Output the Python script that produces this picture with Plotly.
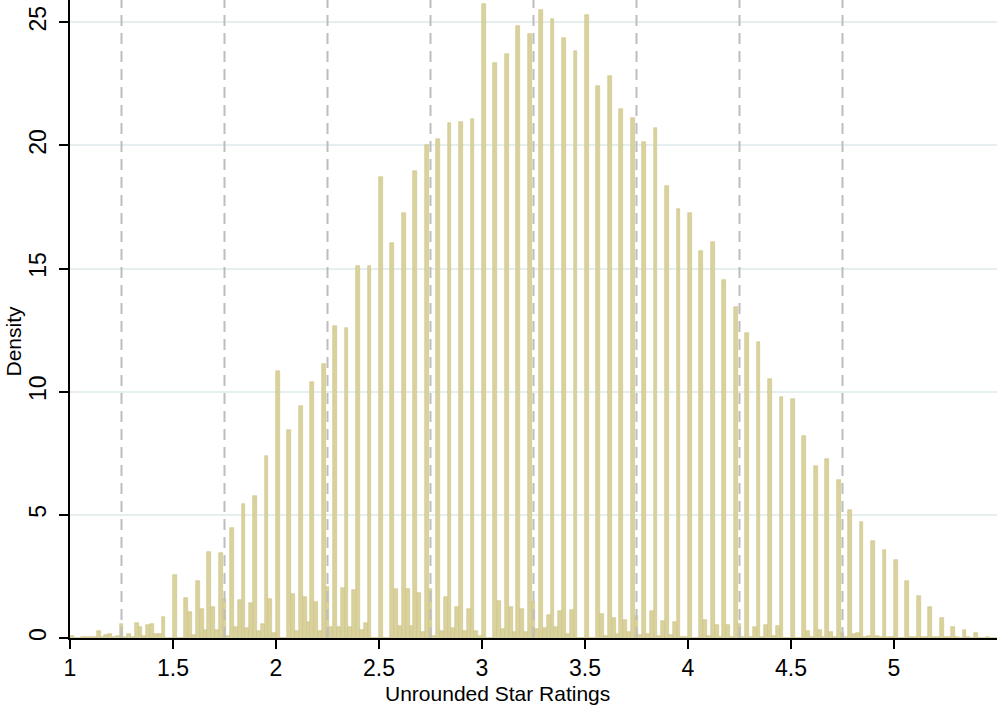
import plotly.graph_objects as go

# ---------------- data (density per bin, bin width = 1/54 star) ----------------
bin_start = 1.0
bin_width = 1.0 / 54.0

# lower tail: 27 bins from 1.0 to 1.5
low_tail = [0.08, 0.0, 0.0, 0.05, 0.05, 0.05, 0.05, 0.28, 0.05, 0.12,
            0.16, 0.05, 0.10, 0.55, 0.05, 0.18, 0.05, 0.60, 0.45, 0.10,
            0.54, 0.57, 0.15, 0.15, 0.85, 0.0, 0.0]

# tall bins at 1.5, 1.5+1/18, ..., 5.444
peak_bins = [
    2.55, 1.62, 2.30, 3.50, 3.45, 4.48, 5.45, 5.75, 7.40,
    10.83, 8.45, 9.40, 10.39, 11.14, 12.65, 12.60, 15.10, 15.10,
    18.70, 16.05, 17.25, 18.95, 20.00, 20.25, 20.90, 20.95, 21.05,
    25.73, 23.36, 23.69, 24.85, 24.50, 25.49, 25.11, 24.35, 23.81,
    25.30, 22.42, 22.80, 21.47, 21.12, 20.14, 20.69, 18.33, 17.40,
    17.24, 15.72, 16.06, 14.53, 13.42, 12.39, 12.00, 10.50, 9.77,
    9.69, 8.19, 6.98, 7.25, 6.40, 5.20, 4.70, 3.94, 3.57,
    3.15, 2.30, 1.72, 1.27, 0.81, 0.46, 0.33, 0.22, 0.05,
]

# first bin after each tall bin
gap_a = [
    0.0, 1.05, 1.19, 1.26, 1.57, 0.45, 0.42, 0.30, 1.60,
    0.0, 1.80, 1.66, 1.46, 2.07, 0.45, 0.45, 0.34, 0.0,
    0.0, 1.98, 2.00, 1.83, 2.00, 0.30, 0.40, 0.27, 0.30,
    0.0, 1.52, 1.25, 1.18, 1.45, 0.40, 0.43, 0.16, 0.0,
    0.0, 0.97, 0.80, 0.73, 0.90, 0.18, 0.10, 0.12, 0.05,
    0.0, 0.72, 0.51, 0.51, 0.58, 0.05, 0.05, 0.10, 0.0,
    0.0, 0.30, 0.34, 0.24, 0.20, 0.16, 0.05, 0.10, 0.05,
    0.0, 0.05, 0.05, 0.03, 0.05, 0.03, 0.03, 0.02, 0.0,
]

# second bin after each tall bin (just before the next tall bin)
gap_b = [
    0.0, 0.14, 0.34, 0.34, 0.10, 1.55, 1.42, 0.55, 0.20,
    0.0, 0.30, 0.65, 0.30, 0.45, 2.03, 1.96, 0.62, 0.0,
    0.0, 0.47, 0.50, 0.24, 0.10, 1.66, 1.26, 1.19, 0.10,
    0.0, 0.37, 0.23, 0.23, 0.37, 0.95, 1.10, 1.15, 0.0,
    0.0, 0.10, 0.16, 0.23, 0.12, 1.08, 0.70, 0.66, 0.05,
    0.0, 0.10, 0.05, 0.05, 0.05, 0.45, 0.54, 0.50, 0.0,
    0.0, 0.05, 0.05, 0.05, 0.05, 0.20, 0.10, 0.05, 0.05,
    0.0, 0.03, 0.03, 0.03, 0.03, 0.02, 0.02, 0.02, 0.0,
]

x_ticks = [1, 1.5, 2, 2.5, 3, 3.5, 4, 4.5, 5]
x_tick_text = ["1", "1.5", "2", "2.5", "3", "3.5", "4", "4.5", "5"]
y_ticks = [0, 5, 10, 15, 20, 25]
ref_lines = [1.25, 1.75, 2.25, 2.75, 3.25, 3.75, 4.25, 4.75]
x_title = "Unrounded Star Ratings"
y_title = "Density"

# ---------------- build bins ----------------
density = list(low_tail)
for t, a, b in zip(peak_bins, gap_a, gap_b):
    density += [t, a, b]
left_edges = [bin_start + i * bin_width for i in range(len(density))]

FONT = "Liberation Sans"
BAR = "#d9d29c"
BAR_LINE = "#cbc284"

fig = go.Figure()
fig.add_trace(go.Bar(
    x=left_edges, y=density, width=bin_width, offset=0,
    marker=dict(color=BAR, line=dict(color=BAR_LINE, width=0.6)),
    hoverinfo="skip", showlegend=False,
))

for xv in ref_lines:
    fig.add_shape(type="line", x0=xv, x1=xv, y0=0, y1=1, xref="x", yref="paper",
                  line=dict(color="#bdbdbd", width=2, dash="11px,7px"), layer="above")

fig.add_annotation(text=x_title, xref="paper", yref="paper", x=0.4617, y=-0.0675,
                   xanchor="center", yanchor="top", showarrow=False, borderpad=0,
                   font=dict(family=FONT, size=21, color="black"))
fig.add_annotation(text=y_title, xref="paper", yref="paper", x=-0.062, y=0.4655,
                   xanchor="center", yanchor="middle", showarrow=False, textangle=-90,
                   font=dict(family=FONT, size=21, color="black"))

fig.update_layout(
    width=1000, height=713,
    margin=dict(l=70, r=3, t=0, b=75),
    paper_bgcolor="white", plot_bgcolor="white",
    bargap=0,
    font=dict(family=FONT, size=22, color="black"),
    xaxis=dict(
        range=[1, 5.5], tickvals=x_ticks, ticktext=x_tick_text,
        showgrid=False, zeroline=False, automargin=False,
        showline=True, linecolor="black", linewidth=1.5,
        ticks="outside", ticklen=9, tickwidth=1.5, tickcolor="black",
        tickfont=dict(size=23),
    ),
    yaxis=dict(
        range=[0, 25.9], tickvals=y_ticks, automargin=False,
        showgrid=True, gridcolor="#e6eff0", gridwidth=1.5, zeroline=False,
        showline=True, linecolor="black", linewidth=1.5,
        ticks="outside", ticklen=9, tickwidth=1.5, tickcolor="black",
        tickangle=-90, tickfont=dict(size=23), ticklabelstandoff=4,
    ),
)

fig.write_html("out.html", config={"displayModeBar": False},
               post_script="document.body.style.margin='0px';document.body.style.padding='0px';")
